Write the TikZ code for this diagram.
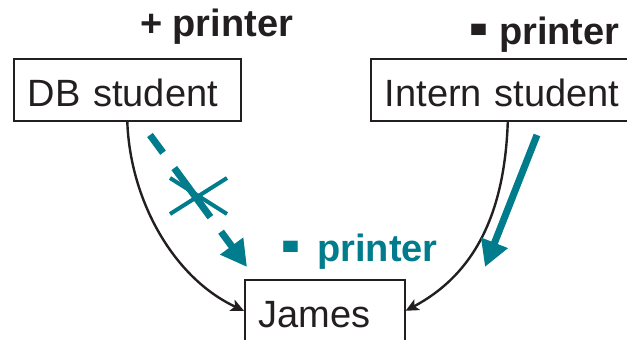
\documentclass[tikz,border=0pt]{standalone}
\usepackage{fontspec}
\setmainfont{Liberation Sans}
\usepackage{xcolor}
\usepackage{graphicx}
\usepackage{tikz}
\usetikzlibrary{arrows.meta, shapes.misc}

\definecolor{petrol}{RGB}{0,124,140}
\definecolor{ink}{RGB}{35,31,32}

% a chunky minus sign for the printer labels
\newcommand\heavyminus{\raisebox{-0.25em}{\scalebox{1.5}[2.5]{-}}}

\begin{document}
\begin{tikzpicture}[
    x=1pt, y=1pt,
    every node/.style={font=\fontsize{38}{44}\selectfont, text=ink},
    box/.style={draw=ink, line width=1.6pt, inner xsep=14pt, inner ysep=0pt,
                text height=34pt, text depth=0pt,
                minimum height=62pt, align=left, anchor=north west},
    gain/.style={font=\fontsize{38}{44}\selectfont\bfseries, anchor=base west},
    inherit/.style={draw=ink, line width=2.4pt, -{Stealth[length=13pt, width=12pt, inset=3pt]}},
    flow/.style={draw=petrol, line width=7pt, -{Triangle[length=26pt, width=27pt]}}
  ]
  \useasboundingbox (0,0) rectangle (627,340);

  % Nodes
  \node[box, text width=199pt] (db) at (13,282) {DB student};
  \node[box, text width=240pt] (intern) at (370,282) {Intern student};
  \node[box, text width=132pt] (james) at (244,61) {James};

  % Labels
  \node[gain] (plus) at (136.5,303) {+ printer};
  \node[gain] (minus) at (466,295) {\heavyminus\ printer};
  \node[gain, text=petrol] (lost) at (278,78) {\heavyminus\ \,printer};

  % Edges
  \draw[inherit] (db.south) to[out=-88, in=155, looseness=0.9] (james.west);
  \draw[inherit] ([xshift=3pt]intern.south) to[out=-92, in=28] (james.east);

  % Printer flows
  \coordinate (dbout) at (150,205);
  \coordinate (dbin) at (247,73);
  \coordinate (internout) at (537,205);
  \coordinate (internin) at (485,73);
  \draw[flow, dash pattern=on 22pt off 19pt on 61pt off 18pt on 200pt] (dbout) -- (dbin);
  \draw[flow] (internout) -- (internin);
  \node[cross out, draw=petrol, line width=4pt, inner sep=0pt,
        minimum width=53pt, minimum height=32pt] (blocked) at (198.5,144) {};
\end{tikzpicture}
\end{document}
